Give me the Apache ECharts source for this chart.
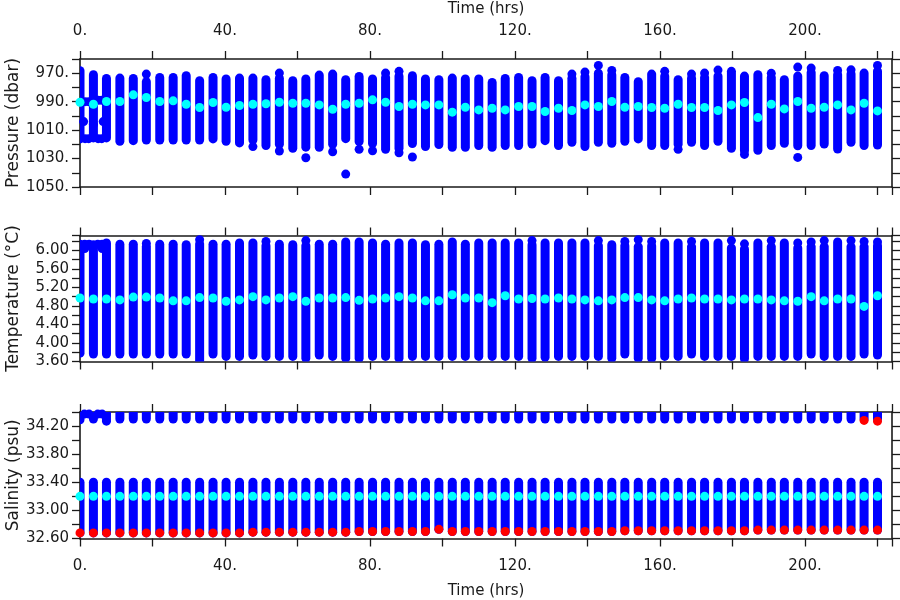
<!DOCTYPE html>
<html><head><meta charset="utf-8">
<script src="https://cdn.jsdelivr.net/npm/echarts@6/dist/echarts.min.js"></script>
<style>html,body{margin:0;padding:0;background:#fff}#c{width:900px;height:600px}</style>
</head><body><div id="c"></div>
<script>
// Cast times (hrs)
const times = [0,3.7,7.3,11.0,14.7,18.3,22.0,25.7,29.3,33.0,36.7,40.3,44.0,47.7,51.3,55.0,58.7,62.3,66.0,69.7,
73.3,77.0,80.7,84.3,88.0,91.7,95.3,99.0,102.7,106.3,110.0,113.7,117.3,121.0,124.7,128.3,132.0,135.7,139.3,143.0,
146.7,150.3,154.0,157.7,161.3,165.0,168.7,172.3,176.0,179.7,183.3,187.0,190.7,194.3,198.0,201.7,205.3,209.0,212.7,216.3,220.0];

// Pressure (dbar): profile top, bottom, mean
const presTop = [968.3,971,973.7,973.4,973.7,976,973,973,971.8,975.3,973,974.1,973.4,973.4,974.6,973.5,975.3,974.1,971.3,970.6,
974.6,972.3,974.1,973,972,971.8,974.1,974.6,973.4,974.1,974.1,976.5,973.7,973,975.3,973,975.3,973.5,972.5,970,
971,973,976,970.6,972,974.6,973.5,973,972,968.7,972,971.1,973,974.6,972,969.5,971.8,971,970.5,969.9,968.5];
const presBot = [1016.2,1015.5,1015.5,1017.9,1017.4,1017,1017,1017,1017,1017,1016.2,1017.9,1019,1017,1020.9,1020,1022.8,1022,1022.1,1020,
1016,1018,1019.5,1023.5,1023,1019.5,1021.6,1020.2,1022.1,1022.1,1020.9,1022.1,1020.9,1020.9,1019.8,1017.4,1020.9,1018.6,1021.6,1018.6,
1019.3,1017.9,1016.2,1020.9,1020.9,1020,1018.6,1020.9,1017.9,1022.8,1024.5,1024.2,1020.9,1019.3,1021,1020.9,1019.8,1023.3,1018.6,1020.9,1020.5];
const presMean = [990.4,991.8,989.9,989.9,985.2,987.1,989.9,989.4,991.8,994.1,990.6,993.9,992.7,991.8,991.5,990.4,991.1,991.1,992.3,995.3,
991.8,991.1,988.7,990.4,993.4,991.8,992.3,992.3,997.4,993.9,995.8,994.6,995.8,993.4,993.4,996.9,994.6,996.2,992.3,993.4,
989.9,993.9,993.4,994.1,994.6,991.8,994.1,994.1,996.2,992.3,990.6,1001.2,991.8,995.1,989.9,994.6,993.9,992.3,995.8,991.1,996.5];
// Isolated pressure samples
const presOutT = [18.3,47.7,55.0,55.0,62.3,69.7,73.3,77.0,80.7,84.3,88.0,88.0,91.7,135.7,139.3,143.0,146.7,161.3,165.0,168.7,172.3,176.0,183.3,190.7,198.0,198.0,201.7,209.0,212.7,220.0];
const presOutV = [970.6,1021.6,969.9,1024.7,1029.4,1025.2,1040.9,1023.5,1024.5,969.9,968.7,1025.9,1028.9,970.6,969.2,964.5,968,968.7,1023.5,970.6,969.9,967.8,1027.1,970.1,965.7,1029.2,966.4,968,967.6,964.5];
// Start-of-record loop samples
const presLoopT = [1.4,2.4,1.4,2.4,5.0,6.0,5.0,6.0,1.0,6.4,3.7];
const presLoopV = [990,990,1016,1016,989,989,1016,1016,1004,1004,1006];

// Temperature (degC): profile top, bottom, mean
const tempTop = [6.13,6.12,6.16,6.13,6.13,6.08,6.13,6.13,6.12,6.14,6.13,6.13,6.16,6.16,6.10,6.13,6.12,6.10,6.13,6.13,
6.18,6.18,6.16,6.13,6.16,6.16,6.12,6.13,6.18,6.13,6.16,6.16,6.16,6.16,6.12,6.16,6.16,6.16,6.16,6.10,
6.12,6.10,6.08,6.10,6.16,6.16,6.08,6.16,6.16,6.05,6.03,6.16,6.08,6.16,6.05,6.08,6.08,6.18,6.08,6.08,6.10];
const tempBot = [3.78,3.76,3.76,3.76,3.76,3.76,3.76,3.76,3.76,3.56,3.76,3.71,3.71,3.74,3.71,3.71,3.71,3.67,3.74,3.71,
3.67,3.67,3.71,3.71,3.67,3.71,3.71,3.71,3.71,3.71,3.71,3.71,3.71,3.71,3.67,3.69,3.71,3.71,3.71,3.71,
3.67,3.76,3.67,3.67,3.71,3.71,3.76,3.71,3.71,3.71,3.66,3.71,3.71,3.71,3.71,3.76,3.71,3.71,3.71,3.76,3.74];
const tempMean = [4.97,4.95,4.95,4.93,4.99,4.99,4.97,4.91,4.91,4.98,4.97,4.90,4.93,5.00,4.93,4.97,5.00,4.90,4.97,4.97,
4.98,4.92,4.95,4.97,5.00,4.97,4.91,4.91,5.04,4.97,4.97,4.87,5.02,4.95,4.96,4.95,4.97,4.95,4.93,4.91,
4.93,4.98,4.98,4.93,4.91,4.95,4.97,4.95,4.95,4.93,4.95,4.95,4.93,4.91,4.90,5.00,4.91,4.95,4.95,4.79,5.02];
const tempOutT = [18.3,33.0,51.3,62.3,124.7,143.0,150.3,154.0,157.7,168.7,179.7,183.3,190.7,198.0,201.7,205.3,212.7,216.3,220.0];
const tempOutV = [6.15,6.23,6.19,6.21,6.21,6.21,6.19,6.23,6.19,6.19,6.21,6.14,6.21,6.16,6.18,6.21,6.21,6.19,6.18];
const tempLoopT = [1.3,2.5,4.9,6.1,1.3,6.1];
const tempLoopV = [6.13,6.13,6.13,6.13,6.04,6.04];

// Salinity (psu): lower profile segment, upper profile segment, mean, red markers
const salLowTop = 33.40;
const salLow = [32.68,32.68,32.68,32.68,32.68,32.68,32.68,32.68,32.68,32.68,32.68,32.68,32.68,32.69,32.69,32.69,32.69,32.69,32.69,32.69,
32.69,32.70,32.70,32.70,32.70,32.70,32.70,32.73,32.70,32.70,32.70,32.70,32.70,32.70,32.70,32.70,32.70,32.70,32.70,32.70,
32.70,32.71,32.71,32.71,32.71,32.71,32.71,32.71,32.71,32.71,32.71,32.72,32.72,32.72,32.72,32.72,32.72,32.72,32.72,32.72,32.72];
const salUpBot = [34.29,34.30,34.27,34.30,34.30,34.30,34.30,34.30,34.30,34.30,34.30,34.30,34.30,34.30,34.30,34.30,34.30,34.30,34.30,34.30,
34.30,34.30,34.30,34.30,34.30,34.30,34.30,34.30,34.30,34.30,34.30,34.30,34.30,34.30,34.30,34.30,34.30,34.30,34.30,34.30,
34.30,34.30,34.30,34.30,34.30,34.30,34.30,34.30,34.30,34.30,34.30,34.30,34.30,34.30,34.30,34.30,34.30,34.30,34.30,34.30,34.30];
const salUpTop = 34.50;
const salMean = [33.20,33.20,33.20,33.20,33.20,33.20,33.20,33.20,33.20,33.20,33.20,33.20,33.20,33.20,33.20,33.20,33.20,33.20,33.20,33.20,
33.20,33.20,33.20,33.20,33.20,33.20,33.20,33.20,33.20,33.20,33.20,33.20,33.20,33.20,33.20,33.20,33.20,33.20,33.20,33.20,
33.20,33.20,33.20,33.20,33.20,33.20,33.20,33.20,33.20,33.20,33.20,33.20,33.20,33.20,33.20,33.20,33.20,33.20,33.20,33.20,33.20];
const salRedT = [216.3,220.0];
const salRedV = [34.28,34.27];
const salLoopT = [1.2,2.5,4.9,6.1];
const salLoopV = [34.37,34.37,34.37,34.37];

const BLUE = '#0000ff', CYAN = '#00ffff', RED = '#ff0000', INK = '#1a1a1a';
const FONT = 'DejaVu Sans';
const COLW = 9, DOT = 9;

function colRender(params, api) {
  const x = api.value(0);
  const p1 = api.coord([x, api.value(1)]);
  const p2 = api.coord([x, api.value(2)]);
  return {type: 'line', shape: {x1: p1[0], y1: p1[1], x2: p2[0], y2: p2[1]},
    style: {stroke: BLUE, lineWidth: COLW, lineCap: 'round'}};
}

const grids = [
  {left: 80, right: 8, top: 59, height: 128, outerBoundsMode: 'none', containLabel: false},
  {left: 80, right: 8, top: 235.5, height: 126, outerBoundsMode: 'none', containLabel: false},
  {left: 80, right: 8, top: 412, height: 126.5, outerBoundsMode: 'none', containLabel: false}
];

const lineStyle = {color: INK, width: 1.6};
const tickStyle = {color: INK, width: 1.3};
const labelStyle = {fontFamily: FONT, fontSize: 15, color: INK};

function xFmt(v) { const r = Math.round(v); return (r % 40 === 0 && v < 222) ? r + '.' : ''; }

function xAxisDef(g, pos, showLabel, name) {
  const a = {type: 'value', gridIndex: g, position: pos, min: 0, max: 224, interval: 20,
    axisLine: {show: true, onZero: false, lineStyle},
    axisTick: {show: true, length: 8, inside: false, lineStyle: tickStyle},
    axisLabel: Object.assign({show: showLabel, formatter: xFmt, margin: 20}, labelStyle),
    splitLine: {show: false}};
  if (name) {
    a.name = name; a.nameLocation = 'middle'; a.nameGap = (pos === 'top') ? 42 : 45;
    a.nameMoveOverlap = false;
    a.nameTextStyle = {fontFamily: FONT, fontSize: 15, color: INK};
  }
  return a;
}

function yAxisDef(g, pos, cfg) {
  const a = {type: 'value', gridIndex: g, position: pos, min: cfg.min, max: cfg.max, interval: cfg.interval,
    inverse: !!cfg.inverse,
    axisLine: {show: true, onZero: false, lineStyle},
    axisTick: {show: true, length: 8, inside: false, lineStyle: tickStyle},
    axisLabel: Object.assign({show: pos === 'left', formatter: cfg.fmt, margin: 11, showMaxLabel: true, showMinLabel: true}, labelStyle),
    splitLine: {show: false}};
  if (pos === 'left') {
    a.name = cfg.name; a.nameLocation = 'middle'; a.nameGap = 58;
    a.nameMoveOverlap = false;
    a.nameTextStyle = {fontFamily: FONT, fontSize: 17, color: INK};
  }
  return a;
}

const yCfg = [
  {min: 960, max: 1050, interval: 10, inverse: true, name: 'Pressure (dbar)',
   fmt: v => { const r = Math.round(v); return ((r - 970) % 20 === 0) ? r + '.' : ''; }},
  {min: 3.6, max: 6.32, interval: 0.2, name: 'Temperature (°C)',
   fmt: v => { const k = (v - 3.6) / 0.4; return (Math.abs(k - Math.round(k)) < 1e-6) ? v.toFixed(2) : ''; }},
  {min: 32.6, max: 34.4, interval: 0.2, name: 'Salinity (psu)',
   fmt: v => { const k = (v - 32.6) / 0.4; return (Math.abs(k - Math.round(k)) < 1e-6) ? v.toFixed(2) : ''; }}
];

const xAxes = [], yAxes = [];
for (let g = 0; g < 3; g++) {
  xAxes.push(xAxisDef(g, 'bottom', g === 2, g === 2 ? 'Time (hrs)' : null));
  xAxes.push(xAxisDef(g, 'top', g === 0, g === 0 ? 'Time (hrs)' : null));
  yAxes.push(yAxisDef(g, 'left', yCfg[g]));
  yAxes.push(yAxisDef(g, 'right', yCfg[g]));
}

function pairs(ts, vs) { return ts.map((t, i) => [t, vs[i]]); }
function cols(g, lo, hi) {
  return {type: 'custom', xAxisIndex: 2 * g, yAxisIndex: 2 * g, clip: true, renderItem: colRender,
    encode: {x: 0, y: [1, 2]}, silent: true, animation: false,
    data: times.map((t, i) => [t, Array.isArray(lo) ? lo[i] : lo, Array.isArray(hi) ? hi[i] : hi])};
}
function dots(g, data, color, z) {
  return {type: 'scatter', xAxisIndex: 2 * g, yAxisIndex: 2 * g, symbol: 'circle', symbolSize: DOT,
    itemStyle: {color: color, opacity: 1}, data: data, z: z || 2, clip: true, silent: true, animation: false};
}

const series = [
  cols(0, presTop, presBot),
  dots(0, pairs(presOutT, presOutV), BLUE),
  dots(0, pairs(presLoopT, presLoopV), BLUE),
  dots(0, pairs(times, presMean), CYAN, 3),
  cols(1, tempBot, tempTop),
  dots(1, pairs(tempOutT, tempOutV), BLUE),
  dots(1, pairs(tempLoopT, tempLoopV), BLUE),
  dots(1, pairs(times, tempMean), CYAN, 3),
  cols(2, salLow, salLowTop),
  cols(2, salUpBot, salUpTop),
  dots(2, pairs(salLoopT, salLoopV), BLUE),
  dots(2, pairs(times, salMean), CYAN, 3),
  dots(2, pairs(times, salLow), RED, 4),
  dots(2, pairs(salRedT, salRedV), RED, 4)
];

const chart = echarts.init(document.getElementById('c'), null, {renderer: 'canvas'});
chart.setOption({animation: false, backgroundColor: '#fff', grid: grids, xAxis: xAxes, yAxis: yAxes, series: series});
</script></body></html>
